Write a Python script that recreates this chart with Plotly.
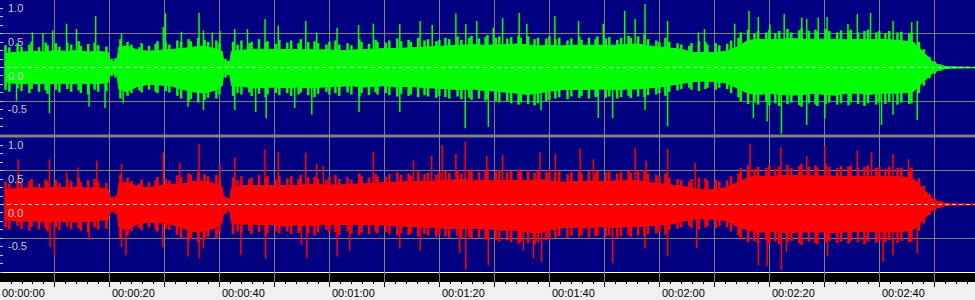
import plotly.graph_objects as go

# ---------------- data ----------------
# solid body envelope: time grid (s)
env_t = [0.9, 2, 4, 6, 8, 10, 12, 14, 16, 18,
         19.7, 20.0, 21.3, 21.6, 23, 25, 27, 29, 31, 33,
         35, 37, 39, 40.4, 40.7, 41.8, 42.1, 44, 46, 48,
         50, 52, 54, 56, 58, 60, 62, 64, 66, 68,
         70, 72, 74, 76, 78, 80, 82, 84, 86, 88,
         90, 92, 94, 96, 98, 100, 102, 104, 106, 108,
         110, 112, 114, 116, 118, 120, 122, 124, 126, 128,
         130, 132, 134, 136, 138, 140, 142, 144, 146, 148,
         150, 152, 154, 156, 158, 160, 162, 164, 166, 167.3,
         168.5, 169.5, 170.5, 171.5, 172.2, 177.4]

green_top = [0.2, 0.22, 0.23, 0.24, 0.23, 0.25, 0.24, 0.25, 0.23, 0.24,
             0.22, 0.09, 0.1, 0.3, 0.32, 0.26, 0.24, 0.25, 0.27, 0.28,
             0.3, 0.32, 0.28, 0.24, 0.09, 0.09, 0.24, 0.26, 0.27, 0.27,
             0.27, 0.26, 0.26, 0.27, 0.26, 0.26, 0.25, 0.26, 0.27, 0.28,
             0.28, 0.28, 0.29, 0.3, 0.31, 0.31, 0.32, 0.33, 0.34, 0.33,
             0.33, 0.34, 0.35, 0.34, 0.32, 0.33, 0.32, 0.33, 0.33, 0.33,
             0.32, 0.33, 0.34, 0.35, 0.32, 0.3, 0.28, 0.27, 0.22, 0.22,
             0.22, 0.24, 0.3, 0.4, 0.42, 0.41, 0.42, 0.43, 0.42, 0.42,
             0.43, 0.42, 0.41, 0.42, 0.41, 0.42, 0.41, 0.4, 0.38, 0.28,
             0.17, 0.09, 0.045, 0.022, 0.012, 0.005]
green_bot = [-0.22, -0.23, -0.24, -0.24, -0.25, -0.24, -0.24, -0.25, -0.24, -0.24,
             -0.22, -0.09, -0.1, -0.32, -0.36, -0.28, -0.25, -0.26, -0.27, -0.32,
             -0.36, -0.38, -0.34, -0.27, -0.09, -0.11, -0.27, -0.28, -0.3, -0.3,
             -0.29, -0.3, -0.29, -0.3, -0.29, -0.29, -0.28, -0.27, -0.29, -0.28,
             -0.27, -0.29, -0.28, -0.29, -0.3, -0.3, -0.32, -0.33, -0.32, -0.34,
             -0.35, -0.36, -0.38, -0.4, -0.38, -0.35, -0.33, -0.32, -0.33, -0.32,
             -0.32, -0.33, -0.32, -0.32, -0.3, -0.29, -0.27, -0.24, -0.21, -0.2,
             -0.21, -0.23, -0.3, -0.38, -0.4, -0.38, -0.4, -0.41, -0.4, -0.38,
             -0.4, -0.41, -0.38, -0.38, -0.4, -0.38, -0.38, -0.38, -0.36, -0.27,
             -0.17, -0.09, -0.045, -0.022, -0.012, -0.005]
red_top = [0.21, 0.23, 0.24, 0.25, 0.24, 0.26, 0.25, 0.26, 0.24, 0.25,
           0.22, 0.08, 0.09, 0.31, 0.33, 0.27, 0.25, 0.27, 0.3, 0.3,
           0.34, 0.35, 0.31, 0.26, 0.08, 0.09, 0.25, 0.28, 0.28, 0.28,
           0.28, 0.28, 0.28, 0.3, 0.29, 0.29, 0.29, 0.3, 0.3, 0.32,
           0.32, 0.33, 0.34, 0.34, 0.34, 0.35, 0.36, 0.37, 0.36, 0.35,
           0.35, 0.36, 0.36, 0.35, 0.37, 0.35, 0.33, 0.34, 0.35, 0.35,
           0.34, 0.35, 0.36, 0.35, 0.33, 0.32, 0.3, 0.27, 0.24, 0.22,
           0.22, 0.25, 0.32, 0.4, 0.42, 0.41, 0.43, 0.43, 0.42, 0.43,
           0.43, 0.42, 0.41, 0.42, 0.41, 0.42, 0.41, 0.41, 0.39, 0.28,
           0.17, 0.09, 0.045, 0.022, 0.012, 0.005]
red_bot = [-0.22, -0.24, -0.25, -0.24, -0.26, -0.26, -0.25, -0.26, -0.25, -0.24,
           -0.22, -0.08, -0.09, -0.34, -0.38, -0.29, -0.26, -0.27, -0.29, -0.34,
           -0.4, -0.4, -0.35, -0.27, -0.08, -0.1, -0.27, -0.29, -0.3, -0.3,
           -0.3, -0.32, -0.3, -0.32, -0.3, -0.3, -0.3, -0.29, -0.3, -0.3,
           -0.31, -0.32, -0.32, -0.33, -0.34, -0.35, -0.36, -0.36, -0.35, -0.36,
           -0.37, -0.38, -0.38, -0.41, -0.42, -0.38, -0.35, -0.34, -0.35, -0.34,
           -0.33, -0.34, -0.33, -0.33, -0.32, -0.3, -0.29, -0.25, -0.22, -0.21,
           -0.22, -0.24, -0.32, -0.38, -0.41, -0.4, -0.41, -0.42, -0.41, -0.4,
           -0.41, -0.42, -0.4, -0.4, -0.41, -0.4, -0.4, -0.4, -0.38, -0.27,
           -0.17, -0.09, -0.045, -0.022, -0.012, -0.005]

# ragged fringe: local extremes at irregular instants (s)
fringe_t = [1.0, 1.7, 3.2, 3.9, 5.35, 5.75, 7.1, 8.3, 8.65, 10.15,
            10.8, 12.25, 12.95, 14.3, 14.7, 16.05, 17.2, 17.85, 19.35, 20.3,
            21.0, 21.9, 23.2, 23.9, 25.35, 25.75, 27.1, 28.3, 28.65, 30.15,
            30.8, 32.25, 32.95, 34.3, 34.7, 36.05, 37.2, 37.85, 39.35, 39.9,
            41.0, 42.4, 43.2, 43.9, 45.35, 45.75, 47.1, 48.3, 48.65, 50.15,
            50.8, 52.25, 52.95, 54.3, 54.7, 56.05, 57.2, 57.85, 59.35, 59.9,
            61.0, 61.7, 63.2, 63.9, 65.35, 65.75, 67.1, 68.3, 68.65, 70.15,
            70.8, 72.25, 72.95, 74.3, 74.7, 76.05, 77.2, 77.85, 79.35, 79.9,
            81.0, 81.7, 83.2, 83.9, 85.35, 85.75, 87.1, 88.3, 88.65, 90.15,
            90.8, 92.25, 92.95, 94.3, 94.7, 96.05, 97.2, 97.85, 99.35, 99.9,
            101.0, 101.7, 103.2, 103.9, 105.35, 105.75, 107.1, 108.3, 108.65, 110.15,
            110.8, 112.25, 112.95, 114.3, 114.7, 116.05, 117.2, 117.85, 119.35, 119.9,
            121.0, 121.7, 123.2, 123.9, 125.35, 125.75, 127.1, 128.3, 128.65, 130.15,
            130.8, 132.25, 132.95, 134.3, 134.7, 136.05, 137.2, 137.85, 139.35, 139.9,
            141.0, 141.7, 143.2, 143.9, 145.35, 145.75, 147.1, 148.3, 148.65, 150.15,
            150.8, 152.25, 152.95, 154.3, 154.7, 156.05, 157.2, 157.85, 159.35, 159.9,
            161.0, 161.7, 163.2, 163.9, 165.35, 165.75, 167.1, 168.0, 169.0, 170.0,
            171.0, 171.8]
green_fringe_top = [
    0.33, 0.30, 0.36, 0.31, 0.34, 0.38, 0.30, 0.37, 0.33, 0.36,
    0.31, 0.37, 0.34, 0.39, 0.32, 0.35, 0.37, 0.33, 0.31, 0.13,
    0.14, 0.42, 0.38, 0.34, 0.30, 0.36, 0.32, 0.35, 0.39, 0.37,
    0.34, 0.40, 0.38, 0.42, 0.39, 0.44, 0.41, 0.38, 0.40, 0.36,
    0.13, 0.38, 0.34, 0.40, 0.36, 0.38, 0.42, 0.37, 0.39, 0.35,
    0.41, 0.37, 0.40, 0.36, 0.42, 0.38, 0.39, 0.36, 0.34, 0.38,
    0.40, 0.34, 0.36, 0.33, 0.42, 0.38, 0.35, 0.41, 0.38, 0.37,
    0.40, 0.43, 0.39, 0.41, 0.38, 0.44, 0.40, 0.42, 0.39, 0.41,
    0.44, 0.42, 0.46, 0.41, 0.44, 0.47, 0.43, 0.45, 0.48, 0.44,
    0.46, 0.43, 0.45, 0.47, 0.44, 0.46, 0.42, 0.44, 0.43, 0.46,
    0.42, 0.44, 0.40, 0.43, 0.45, 0.41, 0.44, 0.42, 0.46, 0.43,
    0.45, 0.41, 0.44, 0.47, 0.44, 0.46, 0.49, 0.42, 0.40, 0.38,
    0.44, 0.38, 0.36, 0.34, 0.32, 0.36, 0.39, 0.38, 0.34, 0.36,
    0.33, 0.35, 0.40, 0.44, 0.52, 0.56, 0.50, 0.54, 0.52, 0.56,
    0.51, 0.54, 0.57, 0.52, 0.55, 0.58, 0.54, 0.56, 0.53, 0.57,
    0.54, 0.52, 0.55, 0.54, 0.56, 0.52, 0.54, 0.56, 0.52, 0.54,
    0.51, 0.54, 0.52, 0.53, 0.51, 0.52, 0.38, 0.27, 0.16, 0.09,
    0.045, 0.02]
green_fringe_bot = [
    -0.33, -0.36, -0.31, -0.35, -0.38, -0.32, -0.36, -0.34, -0.39, -0.33,
    -0.37, -0.32, -0.36, -0.34, -0.38, -0.40, -0.33, -0.36, -0.35, -0.13,
    -0.15, -0.46, -0.42, -0.38, -0.34, -0.37, -0.33, -0.36, -0.38, -0.35,
    -0.37, -0.42, -0.46, -0.50, -0.47, -0.52, -0.48, -0.45, -0.46, -0.40,
    -0.15, -0.42, -0.38, -0.40, -0.37, -0.42, -0.39, -0.44, -0.40, -0.38,
    -0.41, -0.38, -0.42, -0.40, -0.37, -0.41, -0.44, -0.39, -0.36, -0.40,
    -0.38, -0.42, -0.37, -0.40, -0.43, -0.38, -0.41, -0.37, -0.40, -0.38,
    -0.41, -0.43, -0.39, -0.42, -0.40, -0.44, -0.41, -0.43, -0.45, -0.42,
    -0.44, -0.46, -0.43, -0.47, -0.45, -0.48, -0.46, -0.49, -0.47, -0.50,
    -0.52, -0.50, -0.53, -0.55, -0.52, -0.54, -0.56, -0.53, -0.50, -0.48,
    -0.46, -0.44, -0.47, -0.43, -0.45, -0.42, -0.46, -0.44, -0.43, -0.45,
    -0.43, -0.46, -0.44, -0.42, -0.45, -0.43, -0.44, -0.41, -0.40, -0.38,
    -0.42, -0.36, -0.34, -0.32, -0.30, -0.33, -0.35, -0.32, -0.30, -0.33,
    -0.30, -0.32, -0.38, -0.44, -0.50, -0.54, -0.52, -0.55, -0.51, -0.56,
    -0.53, -0.57, -0.54, -0.52, -0.56, -0.58, -0.53, -0.55, -0.57, -0.54,
    -0.52, -0.55, -0.53, -0.56, -0.52, -0.54, -0.57, -0.53, -0.55, -0.52,
    -0.54, -0.51, -0.55, -0.52, -0.54, -0.53, -0.38, -0.27, -0.16, -0.09,
    -0.045, -0.02]
red_fringe_top = [
    0.34, 0.31, 0.37, 0.32, 0.35, 0.38, 0.31, 0.37, 0.34, 0.37,
    0.32, 0.38, 0.35, 0.40, 0.33, 0.36, 0.38, 0.34, 0.32, 0.12,
    0.13, 0.44, 0.40, 0.35, 0.31, 0.37, 0.33, 0.36, 0.41, 0.38,
    0.36, 0.43, 0.41, 0.46, 0.44, 0.48, 0.45, 0.42, 0.44, 0.38,
    0.12, 0.40, 0.36, 0.42, 0.38, 0.40, 0.44, 0.39, 0.42, 0.37,
    0.43, 0.39, 0.42, 0.38, 0.44, 0.40, 0.41, 0.38, 0.37, 0.41,
    0.44, 0.38, 0.41, 0.37, 0.46, 0.42, 0.40, 0.45, 0.42, 0.41,
    0.45, 0.48, 0.44, 0.46, 0.43, 0.49, 0.45, 0.47, 0.44, 0.48,
    0.50, 0.47, 0.51, 0.46, 0.49, 0.52, 0.48, 0.50, 0.53, 0.49,
    0.51, 0.48, 0.50, 0.52, 0.49, 0.51, 0.47, 0.50, 0.48, 0.51,
    0.47, 0.49, 0.45, 0.48, 0.50, 0.46, 0.49, 0.47, 0.50, 0.48,
    0.49, 0.46, 0.48, 0.50, 0.47, 0.49, 0.51, 0.46, 0.44, 0.42,
    0.46, 0.40, 0.38, 0.36, 0.34, 0.38, 0.40, 0.39, 0.35, 0.37,
    0.34, 0.36, 0.42, 0.46, 0.54, 0.58, 0.52, 0.56, 0.54, 0.58,
    0.53, 0.56, 0.59, 0.54, 0.57, 0.60, 0.56, 0.58, 0.55, 0.59,
    0.56, 0.54, 0.57, 0.56, 0.58, 0.54, 0.56, 0.58, 0.54, 0.56,
    0.53, 0.56, 0.54, 0.55, 0.53, 0.54, 0.39, 0.28, 0.16, 0.09,
    0.045, 0.02]
red_fringe_bot = [
    -0.34, -0.37, -0.32, -0.36, -0.39, -0.33, -0.37, -0.35, -0.40, -0.34,
    -0.38, -0.33, -0.37, -0.35, -0.39, -0.41, -0.34, -0.37, -0.36, -0.12,
    -0.14, -0.50, -0.46, -0.40, -0.35, -0.38, -0.34, -0.37, -0.40, -0.36,
    -0.38, -0.45, -0.50, -0.54, -0.51, -0.56, -0.52, -0.48, -0.50, -0.42,
    -0.14, -0.44, -0.40, -0.42, -0.39, -0.44, -0.41, -0.46, -0.42, -0.40,
    -0.43, -0.40, -0.44, -0.42, -0.39, -0.43, -0.46, -0.41, -0.38, -0.42,
    -0.41, -0.45, -0.40, -0.43, -0.46, -0.41, -0.44, -0.40, -0.43, -0.41,
    -0.44, -0.46, -0.42, -0.45, -0.43, -0.47, -0.44, -0.46, -0.48, -0.45,
    -0.47, -0.49, -0.46, -0.50, -0.48, -0.51, -0.49, -0.52, -0.50, -0.53,
    -0.55, -0.53, -0.56, -0.58, -0.55, -0.57, -0.59, -0.56, -0.53, -0.51,
    -0.49, -0.47, -0.50, -0.46, -0.48, -0.45, -0.49, -0.47, -0.46, -0.48,
    -0.46, -0.49, -0.47, -0.45, -0.48, -0.46, -0.47, -0.44, -0.43, -0.41,
    -0.45, -0.38, -0.36, -0.34, -0.32, -0.35, -0.37, -0.34, -0.32, -0.35,
    -0.32, -0.34, -0.40, -0.46, -0.52, -0.56, -0.54, -0.57, -0.53, -0.58,
    -0.55, -0.59, -0.56, -0.54, -0.58, -0.60, -0.55, -0.57, -0.59, -0.56,
    -0.54, -0.57, -0.55, -0.58, -0.54, -0.56, -0.59, -0.55, -0.57, -0.54,
    -0.56, -0.53, -0.57, -0.54, -0.56, -0.55, -0.39, -0.28, -0.16, -0.09,
    -0.045, -0.02]

# individual peaks (time in s, amplitude)
green_spike_t = [3.0, 5.9, 7.8, 9.0, 9.6, 12.1, 13.9, 16.2, 17.4, 19.1,
                 22.1, 22.4, 29.7, 30.1, 33.0, 34.2, 36.2, 37.0, 37.0, 38.6,
                 40.0, 42.7, 42.7, 45.0, 46.5, 48.2, 48.4, 50.6, 53.6, 55.6,
                 56.7, 57.6, 61.3, 65.2, 65.3, 67.9, 72.7, 72.7, 76.4, 78.6,
                 82.9, 84.6, 84.7, 86.7, 88.8, 89.7, 91.4, 94.4, 95.8, 98.4,
                 100.9, 105.2, 108.8, 109.7, 111.4, 113.6, 115.5, 117.3, 117.3, 121.4,
                 121.4, 127.0, 128.1, 133.6, 136.2, 137.0, 137.9, 139.5, 140.0, 142.1,
                 142.6, 145.8, 146.7, 146.7, 148.8, 150.0, 150.4, 154.2, 155.9, 158.3,
                 160.3, 162.4, 162.4, 165.8, 166.8, 166.8]
green_spike_v = [-0.49, 0.52, 0.51, -0.68, 0.55, 0.65, 0.57, -0.58, 0.76, -0.6,
                 0.5, -0.53, 0.6, 0.8, 0.53, -0.58, 0.81, 0.55, -0.63, 0.52,
                 0.54, 0.57, -0.63, 0.57, -0.66, 0.72, -0.75, 0.62, -0.6, 0.69,
                 -0.7, 0.52, 0.59, 0.63, -0.66, 0.65, 0.64, -0.66, 0.69, 0.63,
                 0.8, -0.9, 0.64, 0.69, -0.88, 0.59, 0.73, 0.81, 0.65, -0.63,
                 0.76, 0.69, -0.75, 0.65, -0.75, 0.84, 0.72, 0.94, -0.63, 0.69,
                 -0.87, 0.52, 0.57, 0.65, 0.84, -0.75, 0.75, -0.8, 0.64, -0.98,
                 0.79, 0.74, 0.72, -0.85, 0.74, -0.75, 0.75, 0.65, 0.79, 0.81,
                 -0.85, 0.69, -0.7, 0.67, 0.69, -0.78]
red_spike_t = [3.3, 9.0, 9.1, 9.9, 12.1, 14.2, 16.2, 17.6, 22.1, 22.1,
               22.9, 29.7, 29.6, 32.7, 34.2, 36.2, 36.2, 37.0, 40.0, 42.7,
               43.8, 48.2, 48.3, 50.6, 54.8, 55.6, 55.8, 57.6, 58.8, 61.3,
               63.6, 67.9, 72.7, 75.2, 76.4, 78.5, 80.4, 82.9, 83.6, 84.6,
               84.7, 88.5, 88.8, 91.4, 95.2, 97.0, 98.2, 98.5, 101.0, 105.5,
               107.9, 111.4, 115.5, 117.5, 117.3, 121.4, 121.4, 126.4, 126.7, 136.4,
               137.9, 139.5, 142.0, 142.1, 143.0, 146.7, 150.0, 150.5, 155.9, 158.5,
               160.6, 162.4, 162.4, 165.2, 166.8]
red_spike_v = [0.67, 0.67, -0.63, -0.75, 0.48, 0.55, -0.53, 0.65, 0.6, -0.63,
               -0.75, 0.77, -0.63, 0.62, -0.77, 0.9, -0.8, -0.65, 0.6, 0.7,
               -0.75, 0.82, -0.8, 0.77, -0.6, 0.77, -0.8, 0.6, 0.57, -0.77,
               -0.68, 0.78, -0.65, 0.65, -0.68, 0.72, 0.88, 0.75, -0.72, 0.93,
               -0.97, 0.72, -0.9, 0.73, -0.68, -0.8, 0.78, -0.85, 0.75, 0.83,
               0.67, -0.87, 0.84, 0.65, -0.65, 0.82, -0.77, 0.62, -0.65, 0.9,
               -0.9, -0.92, 0.85, -0.97, -0.7, 0.72, 0.87, -0.77, 0.8, 0.78,
               -0.85, 0.75, -0.75, 0.67, -0.72]

grid_secs = [10, 20, 30, 40, 50, 60, 70, 80, 90, 100, 110, 120, 130, 140, 150, 160, 170]
time_tick_secs = [0, 20, 40, 60, 80, 100, 120, 140, 160]
time_tick_labels = ["00:00:00", "00:00:20", "00:00:40", "00:01:00", "00:01:20",
                    "00:01:40", "00:02:00", "00:02:20", "00:02:40"]
amp_label_vals = [1.0, 0.5, 0.0, -0.5]
amp_label_text = ["1.0", "0.5", "0.0", "-0.5"]

# ---------------- style ----------------
NAVY = "#000080"
GRID = "#808080"
LABEL = "#c8c8c8"
GREEN = "#00ff00"
RED = "#ff0000"
X_RANGE = [0, 177.3]
FONT = "Liberation Sans"
W, H = 975, 300

fig = go.Figure()


def body_trace(t, top, bot, color, xa, ya):
    xs = list(t) + list(reversed(t))
    ys = list(top) + list(reversed(bot))
    return go.Scatter(x=xs, y=ys, mode="lines", fill="toself", fillcolor=color,
                      line=dict(color=color, width=1), xaxis=xa, yaxis=ya,
                      hoverinfo="skip", showlegend=False)


def stem_trace(t, v, color, xa, ya, width):
    xs, ys = [], []
    for a, b in zip(t, v):
        xs += [a, a, None]
        ys += [0, b, None]
    return go.Scatter(x=xs, y=ys, mode="lines", line=dict(color=color, width=width),
                      xaxis=xa, yaxis=ya, hoverinfo="skip", showlegend=False)


for (top, bot, ftop, fbot, st, sv, col, xa, ya) in [
        (green_top, green_bot, green_fringe_top, green_fringe_bot,
         green_spike_t, green_spike_v, GREEN, "x", "y"),
        (red_top, red_bot, red_fringe_top, red_fringe_bot,
         red_spike_t, red_spike_v, RED, "x2", "y2")]:
    fig.add_trace(body_trace(env_t, top, bot, col, xa, ya))
    fig.add_trace(stem_trace(fringe_t, ftop, col, xa, ya, 2.5))
    fig.add_trace(stem_trace(fringe_t, fbot, col, xa, ya, 2.5))
    fig.add_trace(stem_trace(st, sv, col, xa, ya, 1.5))
fig.add_trace(go.Scatter(x=[], y=[], xaxis="x3", yaxis="y3", showlegend=False))


def py(p):
    return 1 - p / H


top_dom = [py(135), py(0)]
bot_dom = [py(282), py(137)]
px_per_unit = 67.5
bot_range = [-1 - 10 / px_per_unit, 1.0]
minor_vals = [i / 8 for i in range(-8, 9)]

xcommon = dict(range=X_RANGE, tickmode="array", tickvals=grid_secs, showgrid=True,
               gridcolor=GRID, gridwidth=1, showticklabels=False, zeroline=False,
               ticks="", showline=False, fixedrange=True)
ycommon = dict(tickmode="array", tickvals=[-0.5, 0.5, 1.0], showgrid=True,
               gridcolor=GRID, gridwidth=1, zeroline=False, showticklabels=False,
               ticks="inside", ticklen=3, tickcolor=LABEL, showline=False,
               fixedrange=True,
               minor=dict(tickmode="array", tickvals=minor_vals, ticks="inside",
                          ticklen=3, tickcolor=LABEL, showgrid=False))

fig.update_layout(
    width=W, height=H, autosize=False,
    margin=dict(l=0, r=0, t=0, b=0, pad=0),
    paper_bgcolor="#f0f0f0", plot_bgcolor="rgba(0,0,0,0)",
    showlegend=False,
    xaxis=dict(domain=[0, 1], anchor="y", **xcommon),
    yaxis=dict(domain=top_dom, anchor="x", range=[-1, 1], **ycommon),
    xaxis2=dict(domain=[0, 1], anchor="y2", **xcommon),
    yaxis2=dict(domain=bot_dom, anchor="x2", range=bot_range, **ycommon),
    xaxis3=dict(domain=[0, 1], anchor="y3", range=X_RANGE, side="top",
                tick0=0, dtick=10, ticks="inside", ticklen=5, tickcolor="#000000",
                showticklabels=False, showgrid=False, zeroline=False, showline=False,
                fixedrange=True,
                minor=dict(dtick=2, tick0=0, ticks="inside", ticklen=2,
                           tickcolor="#000000", showgrid=False)),
    yaxis3=dict(domain=[0, py(282)], anchor="x3", range=[0, 1], showgrid=False,
                showticklabels=False, zeroline=False, showline=False, ticks="",
                fixedrange=True),
)

shapes = [
    dict(type="rect", xref="paper", yref="paper", x0=0, x1=1, y0=top_dom[0], y1=1,
         fillcolor=NAVY, line_width=0, layer="below"),
    dict(type="rect", xref="paper", yref="paper", x0=0, x1=1, y0=py(272), y1=bot_dom[1],
         fillcolor=NAVY, line_width=0, layer="below"),
    dict(type="rect", xref="paper", yref="paper", x0=0, x1=1, y0=py(273), y1=py(272),
         fillcolor="#ffffff", line_width=0, layer="below"),
    dict(type="rect", xref="paper", yref="paper", x0=0, x1=1, y0=py(282), y1=py(273),
         fillcolor="#000000", line_width=0, layer="below"),
    dict(type="rect", xref="paper", yref="paper", x0=0, x1=1, y0=py(137.5), y1=py(134.5),
         fillcolor=GRID, line_width=0, layer="above"),
    dict(type="line", xref="paper", yref="y", x0=0, x1=1, y0=0, y1=0,
         line=dict(color=LABEL, width=1, dash="4px,3px"), layer="above"),
    dict(type="line", xref="paper", yref="y2", x0=0, x1=1, y0=0, y1=0,
         line=dict(color=LABEL, width=1, dash="4px,3px"), layer="above"),
]
fig.update_layout(shapes=shapes)

annotations = []
for ref in ["y", "y2"]:
    for v, txt in zip(amp_label_vals, amp_label_text):
        annotations.append(dict(xref="paper", yref=ref, x=6 / W, y=v, text=txt,
                                xanchor="left", yanchor="top", showarrow=False,
                                font=dict(family=FONT, size=11, color=LABEL)))
for s, txt in zip(time_tick_secs, time_tick_labels):
    annotations.append(dict(xref="x3", yref="paper", x=s, y=py(293), text=txt,
                            xanchor="left", yanchor="middle", showarrow=False,
                            font=dict(family=FONT, size=11, color="#000000")))
fig.update_layout(annotations=annotations)

fig.write_html("out.html")
